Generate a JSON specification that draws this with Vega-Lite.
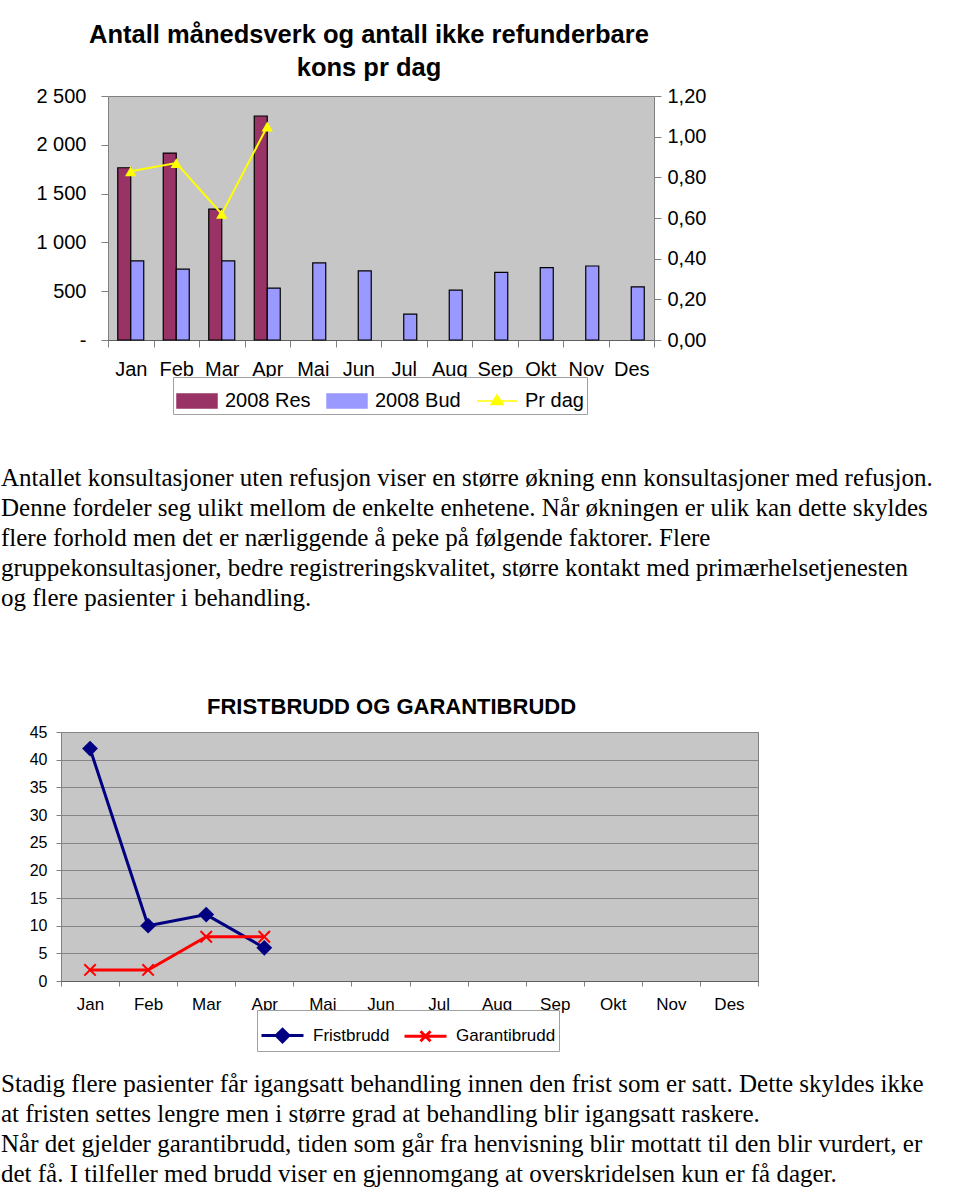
{
  "$schema": "https://vega.github.io/schema/vega-lite/v6.json",
  "padding": {"left": 1, "top": 22, "right": 0, "bottom": 0},
  "background": "white",
  "config": {
    "view": {"stroke": null},
    "font": "Liberation Sans",
    "axis": {"labelFont": "Liberation Sans", "labelColor": "black"},
    "legend": {"labelFont": "Liberation Sans", "labelColor": "black"}
  },
  "datasets": {
    "bars1": [
      {"month": "Jan", "series": "2008 Res", "value": 1765},
      {"month": "Feb", "series": "2008 Res", "value": 1915},
      {"month": "Mar", "series": "2008 Res", "value": 1340},
      {"month": "Apr", "series": "2008 Res", "value": 2295},
      {"month": "Jan", "series": "2008 Bud", "value": 810},
      {"month": "Feb", "series": "2008 Bud", "value": 726},
      {"month": "Mar", "series": "2008 Bud", "value": 810},
      {"month": "Apr", "series": "2008 Bud", "value": 532},
      {"month": "Mai", "series": "2008 Bud", "value": 790},
      {"month": "Jun", "series": "2008 Bud", "value": 708},
      {"month": "Jul", "series": "2008 Bud", "value": 265},
      {"month": "Aug", "series": "2008 Bud", "value": 510},
      {"month": "Sep", "series": "2008 Bud", "value": 692},
      {"month": "Okt", "series": "2008 Bud", "value": 742},
      {"month": "Nov", "series": "2008 Bud", "value": 758},
      {"month": "Des", "series": "2008 Bud", "value": 544}
    ],
    "prdag": [
      {"month": "Jan", "value": 0.83},
      {"month": "Feb", "value": 0.87},
      {"month": "Mar", "value": 0.62},
      {"month": "Apr", "value": 1.05}
    ],
    "brudd": [
      {"month": "Jan", "series": "Fristbrudd", "value": 42},
      {"month": "Feb", "series": "Fristbrudd", "value": 10},
      {"month": "Mar", "series": "Fristbrudd", "value": 12},
      {"month": "Apr", "series": "Fristbrudd", "value": 6},
      {"month": "Jan", "series": "Garantibrudd", "value": 2},
      {"month": "Feb", "series": "Garantibrudd", "value": 2},
      {"month": "Mar", "series": "Garantibrudd", "value": 8},
      {"month": "Apr", "series": "Garantibrudd", "value": 8}
    ],
    "text1": [
      {"line": 1, "text": "Antallet konsultasjoner uten refusjon viser en større økning enn konsultasjoner med refusjon."},
      {"line": 2, "text": "Denne fordeler seg ulikt mellom de enkelte enhetene. Når økningen er ulik kan dette skyldes"},
      {"line": 3, "text": "flere forhold men det er nærliggende å peke på følgende faktorer. Flere"},
      {"line": 4, "text": "gruppekonsultasjoner, bedre registreringskvalitet, større kontakt med primærhelsetjenesten"},
      {"line": 5, "text": "og flere pasienter i behandling."}
    ],
    "text2": [
      {"line": 1, "text": "Stadig flere pasienter får igangsatt behandling innen den frist som er satt. Dette skyldes ikke"},
      {"line": 2, "text": "at fristen settes lengre men i større grad at behandling blir igangsatt raskere."},
      {"line": 3, "text": "\u00a0Når det gjelder garantibrudd, tiden som går fra henvisning blir mottatt til den blir vurdert, er"},
      {"line": 4, "text": "det få. I tilfeller med brudd viser en gjennomgang at overskridelsen kun er få dager."}
    ]
  },
  "spacing": 10,
  "resolve": {"scale": {"color": "independent", "x": "independent", "y": "independent"}, "legend": {"color": "independent"}},
  "vconcat": [
    {
      "spacing": 0,
      "resolve": {"scale": {"color": "independent", "x": "independent", "y": "independent"}, "legend": {"color": "independent"}},
      "hconcat": [
        {"width": 34, "height": 1, "data": {"values": [{"t": ""}]}, "mark": {"type": "text"}, "encoding": {"text": {"field": "t"}}},
        {
          "width": 546,
          "height": 244,
          "view": {"fill": "#c6c6c6", "stroke": "#808080"},
          "title": {"text": ["Antall månedsverk og antall ikke refunderbare", "kons pr dag"], "font": "Liberation Sans", "fontSize": 25.5, "fontWeight": "bold", "lineHeight": 33, "offset": 5, "dx": -12, "color": "black", "anchor": "middle"},
          "layer": [
            {
              "data": {"name": "bars1"},
              "mark": {"type": "bar", "stroke": "black", "strokeWidth": 1.2},
              "encoding": {
                "x": {"field": "month", "type": "nominal", "sort": ["Jan","Feb","Mar","Apr","Mai","Jun","Jul","Aug","Sep","Okt","Nov","Des"],
                      "scale": {"domain": ["Jan","Feb","Mar","Apr","Mai","Jun","Jul","Aug","Sep","Okt","Nov","Des"], "paddingInner": 0, "paddingOuter": 0},
                      "axis": {"title": null, "labelAngle": 0, "labelOverlap": false, "tickBand": "extent", "tickSize": 7, "labelPadding": 12, "labelFontSize": 20, "domainColor": "#606060", "tickColor": "#808080"}},
                "xOffset": {"field": "series", "type": "nominal", "sort": ["2008 Res", "2008 Bud"], "scale": {"paddingInner": 0, "paddingOuter": 0.75}},
                "y": {"field": "value", "type": "quantitative", "scale": {"domain": [0, 2500]},
                      "axis": {"title": null, "values": [0, 500, 1000, 1500, 2000, 2500], "labelExpr": "datum.value === 0 ? '-' : replace(format(datum.value, ','), ',', ' ')", "labelOverlap": false, "grid": false, "domain": false, "tickSize": 7, "labelPadding": 15, "labelFontSize": 20, "tickColor": "#808080"}},
                "color": {"field": "series", "type": "nominal",
                          "scale": {"domain": ["2008 Res", "2008 Bud", "Pr dag"], "range": ["#993366", "#9999ff", "#ffff00"]},
                          "legend": {
                            "orient": "none", "legendX": 65, "legendY": 281, "direction": "horizontal", "title": null,
                            "strokeColor": "#a0a0a0", "fillColor": "white", "padding": 3,
                            "labelFontSize": 20, "labelOffset": 7, "columnPadding": 13, "symbolSize": 1600, "symbolType": "M-1,-0.35H1V0.35H-1Z",
                            "encode": {"symbols": {"update": {
                              "shape": [{"test": "datum.value === 'Pr dag'", "value": "M-1,0L1,0M0,-0.3L0.3,0.17L-0.3,0.17Z"}, {"value": "M-1,-0.35L1,-0.35L1,0.35L-1,0.35Z"}],
                              "fill": [{"test": "datum.value === '2008 Res'", "value": "#993366"}, {"test": "datum.value === '2008 Bud'", "value": "#9999ff"}, {"value": "#ffff00"}],
                              "stroke": [{"test": "datum.value === 'Pr dag'", "value": "#ffff00"}, {"value": "black"}],
                              "strokeWidth": {"value": 1.5},
                              "opacity": {"value": 1}
                            }}}
                          }}
              }
            },
            {
              "data": {"name": "prdag"},
              "mark": {"type": "line", "strokeWidth": 2, "point": {"shape": "triangle-up", "size": 130, "filled": true}},
              "encoding": {
                "x": {"field": "month", "type": "nominal", "sort": ["Jan","Feb","Mar","Apr","Mai","Jun","Jul","Aug","Sep","Okt","Nov","Des"]},
                "y": {"field": "value", "type": "quantitative", "scale": {"domain": [0, 1.2]},
                      "axis": {"orient": "right", "title": null, "values": [0, 0.2, 0.4, 0.6, 0.8, 1.0, 1.2], "labelExpr": "replace(format(datum.value, '.2f'), '.', ',')", "labelOverlap": false, "grid": false, "domain": false, "tickSize": 7, "labelPadding": 6, "labelFontSize": 20, "tickColor": "#808080"}},
                "color": {"datum": "Pr dag", "type": "nominal",
                          "legend": {
                            "orient": "none", "legendX": 65, "legendY": 281, "direction": "horizontal", "title": null,
                            "strokeColor": "#a0a0a0", "fillColor": "white", "padding": 3,
                            "labelFontSize": 20, "labelOffset": 7, "columnPadding": 13, "symbolSize": 1600, "symbolType": "M-1,-0.35H1V0.35H-1Z",
                            "encode": {"symbols": {"update": {
                              "shape": [{"test": "datum.value === 'Pr dag'", "value": "M-1,0L1,0M0,-0.3L0.3,0.17L-0.3,0.17Z"}, {"value": "M-1,-0.35L1,-0.35L1,0.35L-1,0.35Z"}],
                              "fill": [{"test": "datum.value === '2008 Res'", "value": "#993366"}, {"test": "datum.value === '2008 Bud'", "value": "#9999ff"}, {"value": "#ffff00"}],
                              "stroke": [{"test": "datum.value === 'Pr dag'", "value": "#ffff00"}, {"value": "black"}],
                              "strokeWidth": {"value": 1.5},
                              "opacity": {"value": 1}
                            }}}
                          }}
              }
            }
          ],
          "resolve": {"scale": {"y": "independent"}}
        }
      ]
    },
    {
      "width": 900,
      "height": 260,
      "data": {"name": "text1"},
      "mark": {"type": "text", "align": "left", "baseline": "alphabetic", "font": "Liberation Serif", "fontSize": 25, "color": "black"},
      "encoding": {
        "x": {"datum": 0, "type": "quantitative", "scale": {"domain": [0, 1]}, "axis": null},
        "y": {"field": "line", "type": "quantitative", "scale": {"domain": [-1.0333, 7.6333], "reverse": true, "zero": false, "nice": false}, "axis": null},
        "text": {"field": "text"}
      }
    },
    {
      "spacing": 0,
      "resolve": {"scale": {"color": "independent", "x": "independent", "y": "independent"}, "legend": {"color": "independent"}},
      "hconcat": [
        {"width": 27, "height": 1, "data": {"values": [{"t": ""}]}, "mark": {"type": "text"}, "encoding": {"text": {"field": "t"}}},
        {
          "width": 697,
          "height": 249,
          "view": {"fill": "#c6c6c6", "stroke": "#808080"},
          "title": {"text": "FRISTBRUDD OG GARANTIBRUDD", "font": "Liberation Sans", "fontSize": 22, "fontWeight": "bold", "offset": 5, "dx": -18, "color": "black", "anchor": "middle"},
          "data": {"name": "brudd"},
          "encoding": {
            "x": {"field": "month", "type": "nominal", "sort": ["Jan","Feb","Mar","Apr","Mai","Jun","Jul","Aug","Sep","Okt","Nov","Des"],
                  "scale": {"type": "band", "domain": ["Jan","Feb","Mar","Apr","Mai","Jun","Jul","Aug","Sep","Okt","Nov","Des"], "paddingInner": 0, "paddingOuter": 0},
                  "axis": {"title": null, "labelAngle": 0, "labelOverlap": false, "tickBand": "extent", "tickSize": 5, "labelPadding": 10, "labelFontSize": 17, "domainColor": "#606060", "tickColor": "#808080"}},
            "y": {"field": "value", "type": "quantitative", "scale": {"domain": [0, 45]},
                  "axis": {"title": null, "values": [0, 5, 10, 15, 20, 25, 30, 35, 40, 45], "labelOverlap": false, "grid": true, "gridColor": "#858585", "gridWidth": 1, "domain": false, "tickSize": 5, "labelPadding": 9, "labelFontSize": 16, "tickColor": "#808080"}}
          },
          "layer": [
            {
              "mark": {"type": "line", "strokeWidth": 3},
              "encoding": {
                "color": {"field": "series", "type": "nominal",
                          "scale": {"domain": ["Fristbrudd", "Garantibrudd"], "range": ["#000080", "#ff0000"]},
                          "legend": {
                            "orient": "none", "legendX": 196, "legendY": 278, "direction": "horizontal", "title": null,
                            "strokeColor": "#a0a0a0", "fillColor": "white", "padding": 3,
                            "labelFontSize": 17, "labelOffset": 8, "columnPadding": 8, "symbolSize": 1764,
                            "encode": {"symbols": {"update": {
                              "shape": [{"test": "datum.value === 'Fristbrudd'", "value": "M-1,0H1M0,-0.3L0.3,0L0,0.3L-0.3,0Z"}, {"value": "M-1,0H1M-0.24,-0.24L0.24,0.24M-0.24,0.24L0.24,-0.24"}],
                              "fill": [{"test": "datum.value === 'Fristbrudd'", "value": "#000080"}, {"value": "transparent"}],
                              "stroke": [{"test": "datum.value === 'Fristbrudd'", "value": "#000080"}, {"value": "#ff0000"}],
                              "strokeWidth": {"value": 3},
                              "opacity": {"value": 1}
                            }}}
                          }}
              }
            },
            {
              "transform": [{"filter": "datum.series === 'Fristbrudd'"}],
              "mark": {"type": "point", "shape": "diamond", "size": 250, "filled": true, "color": "#000080", "opacity": 1}
            },
            {
              "transform": [{"filter": "datum.series === 'Garantibrudd'"}],
              "mark": {"type": "point", "shape": "M-1,-1L1,1M-1,1L1,-1", "size": 130, "filled": false, "stroke": "#ff0000", "strokeWidth": 2, "opacity": 1}
            }
          ]
        }
      ]
    },
    {
      "width": 900,
      "height": 121,
      "data": {"name": "text2"},
      "mark": {"type": "text", "align": "left", "baseline": "alphabetic", "font": "Liberation Serif", "fontSize": 25, "color": "black"},
      "encoding": {
        "x": {"datum": 0, "type": "quantitative", "scale": {"domain": [0, 1]}, "axis": null},
        "y": {"field": "line", "type": "quantitative", "scale": {"domain": [0, 4.0333], "reverse": true, "zero": false, "nice": false}, "axis": null},
        "text": {"field": "text"}
      }
    }
  ]
}
